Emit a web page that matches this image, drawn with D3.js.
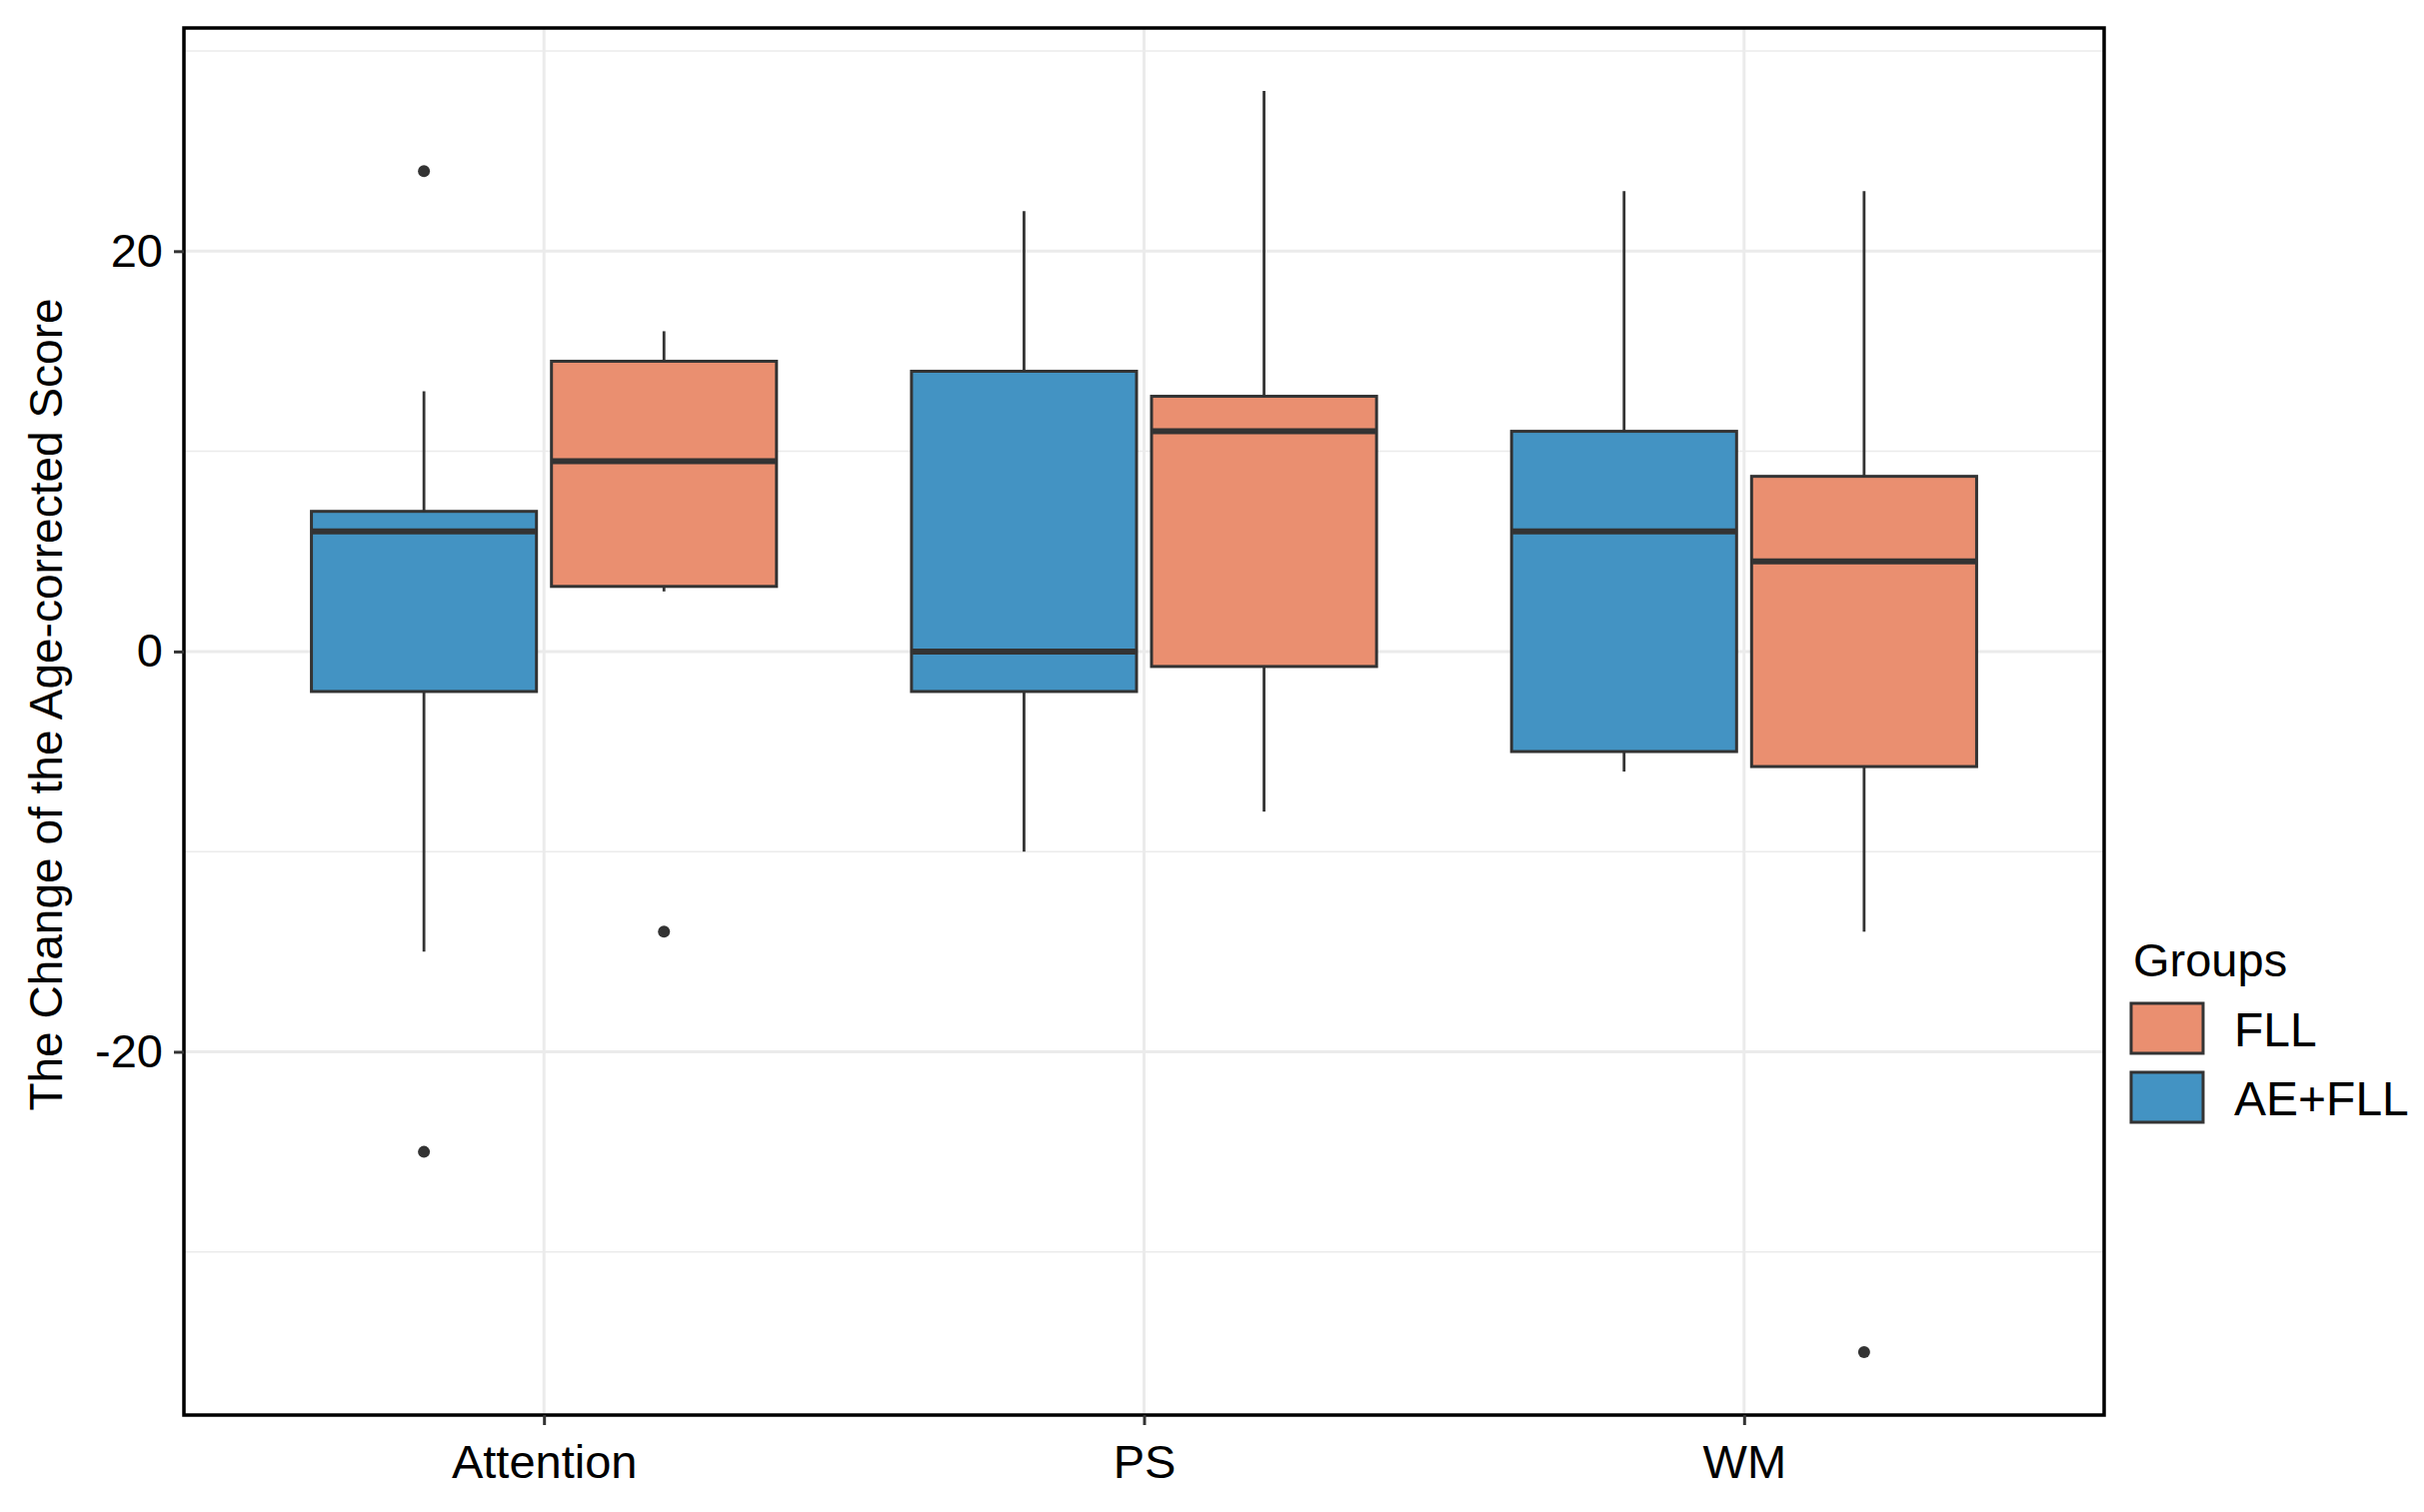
<!DOCTYPE html>
<html>
<head>
<meta charset="utf-8">
<script src="https://cdn.jsdelivr.net/npm/d3@7"></script>
<style>
	body { margin: 0; background: #fff; }
	text { font-family: "Liberation Sans", Arial, sans-serif; fill: #000; }
</style>
</head>
<body>
<svg width="2425" height="1513"></svg>
<script>
// categories and groups
var categories = ["Attention", "PS", "WM"];
var groups = ["AE+FLL", "FLL"];
var legendOrder = ["FLL", "AE+FLL"];
var yTicks = [-20, 0, 20];
var yMinor = [-30, -10, 10, 30];

// AE+FLL box stats, one value per category
var aeLow = [-15, -10, -6];
var aeQ1 = [-2, -2, -5];
var aeMed = [6, 0, 6];
var aeQ3 = [7, 14, 11];
var aeHigh = [13, 22, 23];
var aeOut = [[24, -25], [], []];

// FLL box stats
var fllLow = [3, -8, -14];
var fllQ1 = [3.25, -0.75, -5.75];
var fllMed = [9.5, 11, 4.5];
var fllQ3 = [14.5, 12.75, 8.75];
var fllHigh = [16, 28, 23];
var fllOut = [[-14], [], [-35]];

var colors = { "FLL": "#EA8F70", "AE+FLL": "#4393C3" };

function buildBoxes() {
	var rows = [];
	categories.forEach(function (c, i) {
		rows.push({ cat: c, group: "AE+FLL", low: aeLow[i], q1: aeQ1[i], med: aeMed[i], q3: aeQ3[i], high: aeHigh[i], out: aeOut[i] });
		rows.push({ cat: c, group: "FLL", low: fllLow[i], q1: fllQ1[i], med: fllMed[i], q3: fllQ3[i], high: fllHigh[i], out: fllOut[i] });
	});
	return rows;
}

var boxes = buildBoxes();

var svg = d3.select("svg"),
	panel = { left: 184, right: 2105, top: 28, bottom: 1416 };

var allVals = [];
boxes.forEach(function (b) { allVals.push(b.low, b.high); allVals = allVals.concat(b.out); });
var ext = d3.extent(allVals), pad = (ext[1] - ext[0]) * 0.05;

var y = d3.scaleLinear()
	.domain([ext[0] - pad, ext[1] + pad])
	.range([panel.bottom, panel.top]);

var x = d3.scalePoint()
	.domain(categories)
	.range([panel.left, panel.right])
	.padding(0.6);

var step = x.step();
var dodge = d3.scalePoint().domain(groups).range([-0.2 * step, 0.2 * step]);
var boxW = 0.375 * step;

// grid
var grid = svg.append("g");
grid.selectAll("line.minor")
	.data(yMinor)
	.enter().append("line")
	.attr("x1", panel.left).attr("x2", panel.right)
	.attr("y1", function (d) { return y(d); }).attr("y2", function (d) { return y(d); })
	.attr("stroke", "#EBEBEB").attr("stroke-width", 1.5);
grid.selectAll("line.major")
	.data(yTicks)
	.enter().append("line")
	.attr("x1", panel.left).attr("x2", panel.right)
	.attr("y1", function (d) { return y(d); }).attr("y2", function (d) { return y(d); })
	.attr("stroke", "#EBEBEB").attr("stroke-width", 3);
grid.selectAll("line.vert")
	.data(categories)
	.enter().append("line")
	.attr("x1", function (d) { return x(d); }).attr("x2", function (d) { return x(d); })
	.attr("y1", panel.top).attr("y2", panel.bottom)
	.attr("stroke", "#EBEBEB").attr("stroke-width", 3);

// boxes
var bg = svg.append("g")
	.selectAll("g")
	.data(boxes)
	.enter().append("g")
	.attr("transform", function (d) { return "translate(" + (x(d.cat) + dodge(d.group)) + ",0)"; });

bg.append("line")
	.attr("y1", function (d) { return y(d.high); })
	.attr("y2", function (d) { return y(d.q3); })
	.attr("stroke", "#333").attr("stroke-width", 2.8);
bg.append("line")
	.attr("y1", function (d) { return y(d.q1); })
	.attr("y2", function (d) { return y(d.low); })
	.attr("stroke", "#333").attr("stroke-width", 2.8);
bg.append("rect")
	.attr("x", -boxW / 2)
	.attr("width", boxW)
	.attr("y", function (d) { return y(d.q3); })
	.attr("height", function (d) { return y(d.q1) - y(d.q3); })
	.attr("fill", function (d) { return colors[d.group]; })
	.attr("stroke", "#333").attr("stroke-width", 3);
bg.append("line")
	.attr("x1", -boxW / 2).attr("x2", boxW / 2)
	.attr("y1", function (d) { return y(d.med); })
	.attr("y2", function (d) { return y(d.med); })
	.attr("stroke", "#333").attr("stroke-width", 6);
bg.selectAll("circle")
	.data(function (d) { return d.out; })
	.enter().append("circle")
	.attr("cy", function (d) { return y(d); })
	.attr("r", 6)
	.attr("fill", "#333");

// panel border
svg.append("rect")
	.attr("x", panel.left).attr("y", panel.top)
	.attr("width", panel.right - panel.left)
	.attr("height", panel.bottom - panel.top)
	.attr("fill", "none").attr("stroke", "#000").attr("stroke-width", 3.5);

// axes
var yAxis = svg.append("g")
	.attr("transform", "translate(" + panel.left + ",0)")
	.call(d3.axisLeft(y).tickValues(yTicks).tickSize(10).tickPadding(11)
		.tickFormat(function (d) { return String(d); }));
var xAxis = svg.append("g")
	.attr("transform", "translate(0," + panel.bottom + ")")
	.call(d3.axisBottom(x).tickSize(10).tickPadding(20));

[yAxis, xAxis].forEach(function (a) {
	a.select(".domain").remove();
	a.selectAll(".tick line").attr("stroke", "#333").attr("stroke-width", 3);
	a.selectAll(".tick text").attr("font-size", 47).attr("fill", "#000")
		.attr("font-family", "Liberation Sans, Arial, sans-serif");
});

svg.append("text")
	.attr("transform", "translate(62,705) rotate(-90)")
	.attr("text-anchor", "middle")
	.attr("font-size", 46)
	.text("The Change of the Age-corrected Score");

// legend
var legend = svg.append("g").attr("transform", "translate(2132,0)");
legend.append("text")
	.attr("x", 2).attr("y", 977)
	.attr("font-size", 47)
	.text("Groups");

var items = legend.selectAll("g.item")
	.data(legendOrder)
	.enter().append("g")
	.attr("transform", function (d, i) { return "translate(0," + (1004 + i * 69) + ")"; });
items.append("rect")
	.attr("width", 72).attr("height", 50)
	.attr("fill", function (d) { return colors[d]; })
	.attr("stroke", "#333").attr("stroke-width", 3);
items.append("text")
	.attr("x", 103).attr("y", 43)
	.attr("font-size", 48)
	.text(function (d) { return d; });
</script>
</body>
</html>
